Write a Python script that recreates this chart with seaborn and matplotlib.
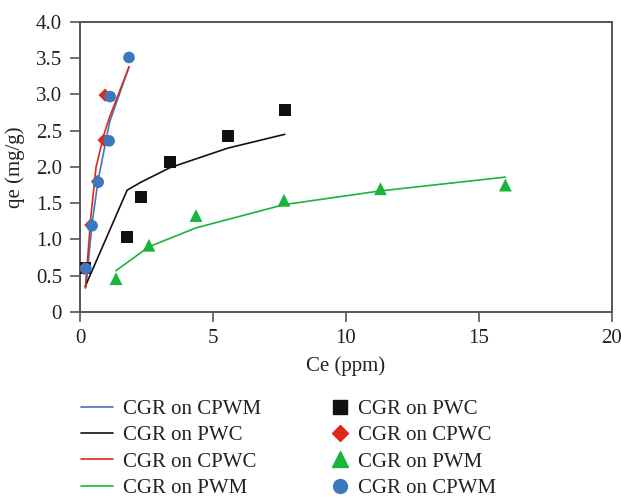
import matplotlib
matplotlib.use("Agg")
import matplotlib.pyplot as plt
import seaborn as sns
from matplotlib.lines import Line2D

# Experimental data
pwc_x = [0.19, 1.77, 2.29, 3.38, 5.56, 7.7]
pwc_y = [0.61, 1.03, 1.59, 2.07, 2.43, 2.79]
cpwc_x = [0.15, 0.4, 0.65, 0.9, 0.94]
cpwc_y = [0.60, 1.20, 1.80, 2.37, 2.99]
pwm_x = [1.35, 2.59, 4.36, 7.67, 11.3, 16.0]
pwm_y = [0.46, 0.92, 1.33, 1.54, 1.70, 1.75]
cpwm_x = [0.22, 0.45, 0.68, 1.09, 1.13, 1.84]
cpwm_y = [0.60, 1.19, 1.79, 2.36, 2.97, 3.51]

# Model fits
fit_cpwm_x = [0.22, 0.45, 0.68, 1.09, 1.13, 1.84]
fit_cpwm_y = [0.35, 1.22, 1.82, 2.58, 2.64, 3.38]
fit_pwc_x = [0.19, 1.77, 2.29, 3.38, 5.56, 7.7]
fit_pwc_y = [0.35, 1.68, 1.79, 1.99, 2.26, 2.45]
fit_cpwc_x = [0.2, 0.4, 0.6, 0.9, 1.1, 1.84]
fit_cpwc_y = [0.33, 1.30, 2.00, 2.45, 2.68, 3.38]
fit_pwm_x = [1.35, 2.59, 4.36, 7.67, 11.3, 16.0]
fit_pwm_y = [0.57, 0.90, 1.16, 1.48, 1.67, 1.86]

line_labels = ["CGR on CPWM", "CGR on PWC", "CGR on CPWC", "CGR on PWM"]
marker_labels = ["CGR on PWC", "CGR on CPWC", "CGR on PWM", "CGR on CPWM"]

BLUE = "#3a78c0"
BLACK = "#111111"
RED = "#dd2a1b"
GREEN = "#19b43a"

sns.set_style("ticks")
plt.rcParams["font.family"] = ["Liberation Serif", "DejaVu Serif"]

fig = plt.figure(figsize=(6.21, 4.98), dpi=100)
ax = fig.add_axes([0.129, 0.3735, 0.856, 0.5825])

sns.lineplot(x=fit_cpwm_x, y=fit_cpwm_y, ax=ax, color=BLUE, lw=1.2, sort=False)
sns.lineplot(x=fit_pwc_x, y=fit_pwc_y, ax=ax, color=BLACK, lw=1.2, sort=False)
sns.lineplot(x=fit_cpwc_x, y=fit_cpwc_y, ax=ax, color=RED, lw=1.2, sort=False)
sns.lineplot(x=fit_pwm_x, y=fit_pwm_y, ax=ax, color=GREEN, lw=1.2, sort=False)

sns.scatterplot(x=pwc_x, y=pwc_y, ax=ax, color=BLACK, marker="s", s=75, edgecolor="none", zorder=3)
sns.scatterplot(x=cpwc_x, y=cpwc_y, ax=ax, color=RED, marker="D", s=45, edgecolor="none", zorder=3)
sns.scatterplot(x=pwm_x, y=pwm_y, ax=ax, color=GREEN, marker="^", s=85, edgecolor="none", zorder=3)
sns.scatterplot(x=cpwm_x, y=cpwm_y, ax=ax, color=BLUE, marker="o", s=70, edgecolor="none", zorder=4)

ax.set_xlim(0, 20)
ax.set_ylim(0, 4.0)
ax.set_xticks([0, 5, 10, 15, 20])
ax.set_yticks([0, 0.5, 1.0, 1.5, 2.0, 2.5, 3.0, 3.5, 4.0])
ax.set_yticklabels(["0", "0.5", "1.0", "1.5", "2.0", "2.5", "3.0", "3.5", "4.0"])
ax.tick_params(axis="both", labelsize=15, color="#555555", length=7, width=1.2,
               labelcolor="#222222")
ax.tick_params(axis="x", pad=5)
ax.tick_params(axis="y", pad=6)
for sp in ax.spines.values():
    sp.set_color("#555555")
    sp.set_linewidth(1.4)
ax.set_xlabel("Ce (ppm)", fontsize=15, color="#222222", labelpad=6)
ax.set_ylabel("qe (mg/g)", fontsize=15, color="#222222", labelpad=8)

line_handles = [Line2D([], [], color=c, lw=1.2) for c in (BLUE, BLACK, RED, GREEN)]
marker_handles = [
    Line2D([], [], color=BLACK, marker="s", ls="none", ms=10),
    Line2D([], [], color=RED, marker="D", ls="none", ms=8),
    Line2D([], [], color=GREEN, marker="^", ls="none", ms=11),
    Line2D([], [], color=BLUE, marker="o", ls="none", ms=10),
]
fig.legend(line_handles, line_labels, loc="upper left", bbox_to_anchor=(0.0998, 0.236),
           frameon=False, fontsize=15, handlelength=1.55, labelspacing=0.33,
           handletextpad=0.5, labelcolor="#222222")
fig.legend(marker_handles, marker_labels, loc="upper left", bbox_to_anchor=(0.500, 0.236),
           frameon=False, fontsize=15, handlelength=1.0, labelspacing=0.33,
           handletextpad=0.37, labelcolor="#222222")

fig.savefig("out.png", dpi=100)
